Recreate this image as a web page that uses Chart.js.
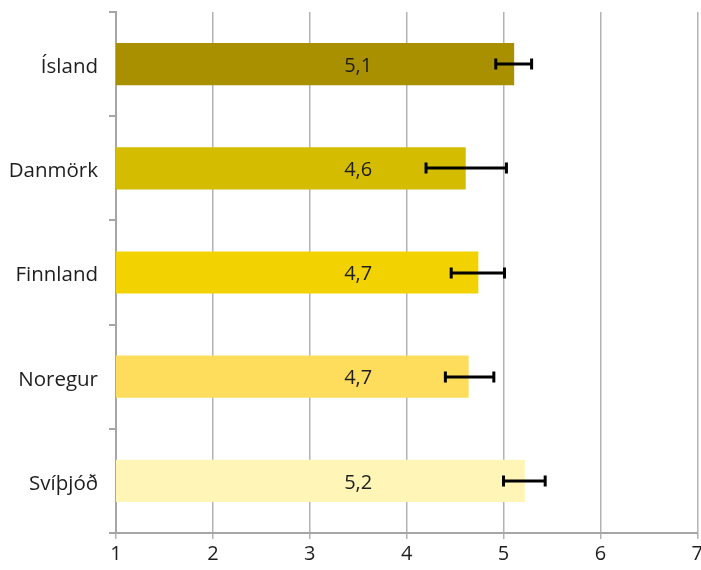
<!DOCTYPE html>
<html>
<head>
<meta charset="utf-8">
<script src="https://cdn.jsdelivr.net/npm/chart.js@4"></script>
<style>
  html, body { margin: 0; padding: 0; background: #fff; overflow: hidden; }
  #clip { width: 701px; height: 570px; overflow: hidden; position: relative; }
  #wrap { width: 706px; height: 570px; position: relative; }
</style>
</head>
<body>
<div id="clip"><div id="wrap"><canvas id="c"></canvas></div></div>
<script>
const categories = ['Ísland', 'Danmörk', 'Finnland', 'Noregur', 'Svíþjóð'];
const values = [5.11, 4.61, 4.74, 4.64, 5.22];
const valueLabels = ['5,1', '4,6', '4,7', '4,7', '5,2'];
const errLow = [4.92, 4.20, 4.46, 4.40, 5.00];
const errHigh = [5.29, 5.03, 5.01, 4.90, 5.43];
const barColors = ['#a89000', '#d4bd00', '#f2d200', '#fedc5c', '#fff5b6'];
const xTicks = [1, 2, 3, 4, 5, 6, 7];
const labelAnchor = 3.5;

const FONT = "'Open Sans', 'Noto Sans', sans-serif";

const overlay = {
  id: 'overlay',
  afterDatasetsDraw(chart) {
    const ctx = chart.ctx;
    const xs = chart.scales.x, ys = chart.scales.y;
    ctx.save();
    ctx.fillStyle = '#1e1e1e';
    ctx.font = "20px " + FONT;
    ctx.textAlign = 'center';
    ctx.textBaseline = 'middle';
    categories.forEach((c, i) => {
      const y = ys.getPixelForValue(i);
      ctx.fillText(valueLabels[i], xs.getPixelForValue(labelAnchor), y + 2);
    });
    ctx.strokeStyle = '#000';
    ctx.lineWidth = 3;
    categories.forEach((c, i) => {
      const y = Math.round(ys.getPixelForValue(i));
      const x1 = xs.getPixelForValue(errLow[i]);
      const x2 = xs.getPixelForValue(errHigh[i]);
      ctx.beginPath();
      ctx.moveTo(x1, y); ctx.lineTo(x2, y);
      ctx.moveTo(x1, y - 5.5); ctx.lineTo(x1, y + 5.5);
      ctx.moveTo(x2, y - 5.5); ctx.lineTo(x2, y + 5.5);
      ctx.stroke();
    });
    ctx.restore();
  }
};

new Chart(document.getElementById('c'), {
  type: 'bar',
  data: {
    labels: categories,
    datasets: [{
      data: values.map(v => [1, v]),
      backgroundColor: barColors,
      borderWidth: 0,
      barPercentage: 0.81,
      categoryPercentage: 0.5
    }]
  },
  options: {
    indexAxis: 'y',
    responsive: true,
    maintainAspectRatio: false,
    animation: false,
    layout: { padding: { top: 12, right: 0, left: 0, bottom: 0 } },
    plugins: { legend: { display: false }, tooltip: { enabled: false } },
    scales: {
      x: {
        min: 1, max: 7,
        afterBuildTicks: s => { s.ticks = xTicks.map(v => ({ value: v })); },
        afterFit: s => { s.height = 37; },
        grid: { color: '#b3b3b3', lineWidth: 1.5, tickLength: 6, drawTicks: true },
        border: { color: '#a6a6a6', width: 2 },
        ticks: { color: '#1e1e1e', font: { family: FONT, size: 20 }, padding: 3 }
      },
      y: {
        offset: true,
        afterFit: s => { s.width = 116; s.paddingTop = 0; s.paddingBottom = 0; },
        grid: { offset: true, drawOnChartArea: false, color: '#a6a6a6', lineWidth: 2, tickLength: 7 },
        border: { color: '#a6a6a6', width: 2 },
        ticks: { color: '#1e1e1e', font: { family: FONT, size: 20.5 }, padding: 11, labelOffset: 3 }
      }
    }
  },
  plugins: [overlay]
});
</script>
</body>
</html>
